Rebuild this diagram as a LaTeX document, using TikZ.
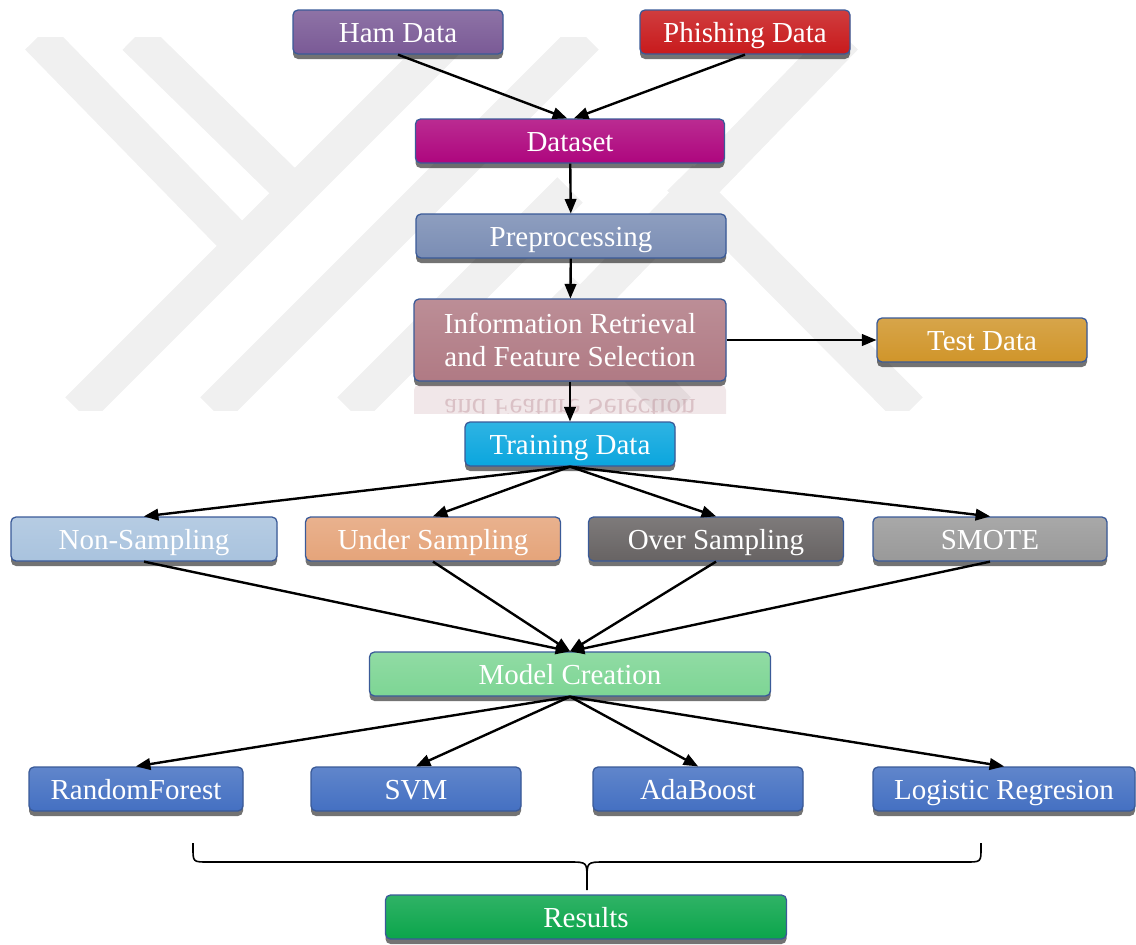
\documentclass[tikz,border=0pt]{standalone}
\usepackage{fontspec}
\setmainfont{Liberation Serif}
\usepackage{tikz}
\usetikzlibrary{shapes,shadows}
\usetikzlibrary{arrows}
\usetikzlibrary{positioning}
\definecolor{boxline}{HTML}{3A5A98}
\definecolor{hamcol}{HTML}{7A5A96}
\definecolor{phishcol}{HTML}{C81A1C}
\definecolor{datacol}{HTML}{AE067E}
\definecolor{precol}{HTML}{7A8DB4}
\definecolor{infocol}{HTML}{B07A84}
\definecolor{testcol}{HTML}{D0952A}
\definecolor{traincol}{HTML}{0AA6DE}
\definecolor{noncol}{HTML}{A9C3DE}
\definecolor{undercol}{HTML}{E5A47A}
\definecolor{overcol}{HTML}{676363}
\definecolor{smotecol}{HTML}{999999}
\definecolor{modelcol}{HTML}{7DD594}
\definecolor{clfcol}{HTML}{4470C2}
\definecolor{rescol}{HTML}{0BA54B}
\definecolor{wmark}{HTML}{F0F0F0}
\tikzset{stagebase/.style={rectangle,rounded corners=5pt,draw=boxline,line width=1.3pt,
text=white,minimum height=44pt,minimum width=210pt,inner sep=2pt,
font=\fontsize{29}{33}\selectfont,align=center,
drop shadow={shadow xshift=0pt,shadow yshift=-5pt,opacity=0.55,fill=black}},
stage/.style={stagebase,text height=21pt,text depth=1pt},
tint/.style={top color=#1!85!white,bottom color=#1},
flow/.style={->,line width=2.4pt},
band/.style={wmark,line width=36pt},
>={triangle 45}}
\begin{document}
\begin{tikzpicture}[x=1pt,y=-1pt]
  \useasboundingbox (0,0) rectangle (1136,945);
  % watermark
  \begin{scope}
    \clip (0,37) rectangle (1136,410);
    \draw [band] (38,37) -- (238,242);
    \draw [band] (135,37) -- (300,198);
    \draw [band] (78,410) -- (451,37);
    \draw [band] (213,410) -- (586,37);
    \draw [band] (350,410) -- (570,190);
    \draw [band] (845,37) -- (590,300);
    \draw [band] (680,178) -- (910,410);
    \draw [band] (560,290) -- (678,410);
  \end{scope}
  % data sources
  \node (ham) [stage,tint=hamcol] at (398,32) {Ham Data};
  \node (phish) [stage,tint=phishcol] at (745,32) {Phishing Data};
  \node (dataset) [stage,tint=datacol,minimum width=309pt] at (570,141) {Dataset};
  \node (prep) [stage,tint=precol,minimum width=310pt] at (571,236) {Preprocessing};
  \node (info) [stagebase,tint=infocol,minimum width=312pt,minimum height=82pt] at (570,340)
    {Information Retrieval\\and Feature Selection};
  % reflection under the feature box
  \begin{scope}
    \clip (414,384) rectangle (726,413);
    \node (infomirror) [rectangle,rounded corners=5pt,minimum width=312pt,minimum height=82pt,
      fill=infocol,fill opacity=0.18,text=infocol,text opacity=0.35,align=center,
      font=\fontsize{29}{33}\selectfont,yscale=-1,transform shape] at (570,426)
      {Information Retrieval\\and Feature Selection};
  \end{scope}
  \node (test) [stage,tint=testcol] at (982,340) {Test Data};
  \node (train) [stage,tint=traincol] at (570,444) {Training Data};
  % sampling
  \node (nonsamp) [stage,tint=noncol,minimum width=266pt] at (144,539) {Non-Sampling};
  \node (under) [stage,tint=undercol,minimum width=255pt] at (433,539) {Under Sampling};
  \node (over) [stage,tint=overcol,minimum width=255pt] at (716,539) {Over Sampling};
  \node (smote) [stage,tint=smotecol,minimum width=234pt] at (990,539) {SMOTE};
  \node (model) [stage,tint=modelcol,minimum width=401pt] at (570,674) {Model Creation};
  % classifiers
  \node (rf) [stage,tint=clfcol,minimum width=214pt] at (136,789) {RandomForest};
  \node (svm) [stage,tint=clfcol] at (416,789) {SVM};
  \node (ada) [stage,tint=clfcol] at (698,789) {AdaBoost};
  \node (logreg) [stage,tint=clfcol,minimum width=262pt] at (1004,789) {Logistic Regresion};
  \node (results) [stage,tint=rescol,minimum width=401pt] at (586,917) {Results};
  \draw [flow] (ham.south) -- ([xshift=-3pt]dataset.north);
  \draw [flow] (phish.south) -- ([xshift=4pt]dataset.north);
  \draw [flow] (dataset) -- (prep);
  \draw [flow] (prep) -- (info);
  \draw [flow] (info) -- (test);
  \draw [flow] (info) -- (train);
  \foreach \s in {nonsamp,under,over,smote}{
    \draw [flow] (train.south) -- (\s.north);
    \draw [flow] (\s.south) -- (model.north);
  }
  \foreach \c in {rf,svm,ada,logreg}
    \draw [flow] (model.south) -- (\c.north);
  % brace over the results
  \coordinate (braceL) at (193,843);
  \coordinate (braceR) at (981,843);
  \coordinate (braceTip) at (587,890);
  \draw [line width=1.6pt] (braceL) -- ++(0,5) .. controls (193,862) .. (208,862)
    -- (569,862) .. controls (587,862) .. (587,879) -- (braceTip);
  \draw [line width=1.6pt] (braceR) -- ++(0,5) .. controls (981,862) .. (966,862)
    -- (605,862) .. controls (587,862) .. (587,879);
\end{tikzpicture}
\end{document}
